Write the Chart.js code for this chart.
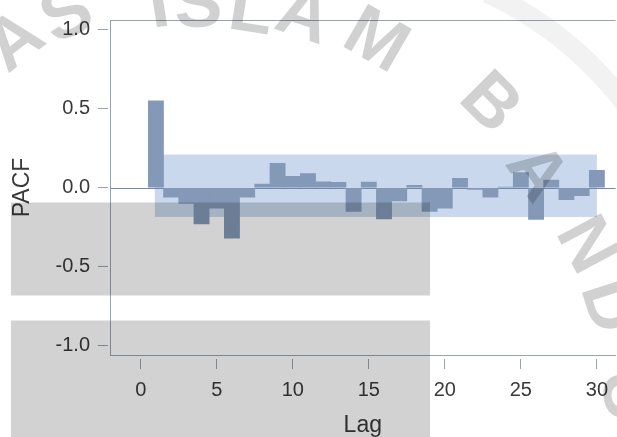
<!DOCTYPE html>
<html>
<head>
<meta charset="utf-8">
<script src="https://cdn.jsdelivr.net/npm/chart.js@4"></script>
<style>
  html, body { margin: 0; padding: 0; background: #fff; overflow: hidden; }
  canvas { display: block; }
</style>
</head>
<body>
<canvas id="pacfChart" width="617" height="437"></canvas>
<script>
// PACF values per lag
const lags = [1, 2, 3, 4, 5, 6, 7, 8, 9, 10, 11, 12, 13, 14, 15,
              16, 17, 18, 19, 20, 21, 22, 23, 24, 25, 26, 27, 28, 29, 30];
const pacfValues = [0.55, -0.06, -0.10, -0.23, -0.13, -0.32, -0.06, 0.023, 0.155, 0.072,
                    0.09, 0.037, 0.035, -0.15, 0.036, -0.197, -0.083, 0.015, -0.15, -0.13,
                    0.059, -0.01, -0.06, 0.004, 0.096, -0.20, 0.048, -0.075, -0.05, 0.11];
// confidence band
const bandLags = [0.93, 30.0];
const bandLimits = [-0.185, 0.21];
// axis ticks
const xTickValues = [0, 5, 10, 15, 20, 25, 30];
const yTickValues = [-1, -0.5, 0, 0.5, 1];

const axisColor = '#98a2ad';
const textColor = '#3a3a3a';

const bandPlugin = {
  id: 'band',
  beforeDatasetsDraw(chart) {
    const { ctx, chartArea, scales: { x, y } } = chart;
    ctx.save();
    const x0 = x.getPixelForValue(bandLags[0]);
    const x1 = x.getPixelForValue(bandLags[1]);
    const yTop = y.getPixelForValue(bandLimits[1]);
    const yBot = y.getPixelForValue(bandLimits[0]);
    ctx.fillStyle = '#c9d8ec';
    ctx.fillRect(x0, yTop, x1 - x0, yBot - yTop);
    // zero reference line
    const y0 = Math.round(y.getPixelForValue(0)) + 0.5;
    ctx.strokeStyle = '#7189ad';
    ctx.lineWidth = 1;
    ctx.beginPath();
    ctx.moveTo(chartArea.left, y0);
    ctx.lineTo(chartArea.right, y0);
    ctx.stroke();
    // top frame line
    const t = Math.round(chartArea.top) + 0.5;
    ctx.strokeStyle = axisColor;
    ctx.beginPath();
    ctx.moveTo(chartArea.left, t);
    ctx.lineTo(chartArea.right, t);
    ctx.stroke();
    ctx.restore();
  }
};

// watermark and grey scan blocks that sit over the picture
const overlayPlugin = {
  id: 'overlay',
  afterDraw(chart) {
    const ctx = chart.ctx;
    ctx.save();
    ctx.strokeStyle = 'rgba(0,0,0,0.05)';
    ctx.lineWidth = 20;
    ctx.beginPath();
    ctx.arc(330, 330, 372, -65 * Math.PI / 180, -15 * Math.PI / 180);
    ctx.stroke();

    const size = 72;
    ctx.font = 'bold ' + size + 'px "Liberation Sans", Arial, sans-serif';
    ctx.textAlign = 'center';
    ctx.textBaseline = 'alphabetic';
    ctx.fillStyle = 'rgba(0,0,0,0.18)';
    const letters = [
      ['A', 12, 38, -38], ['S', 65, 11, -25], ['I', 158, 1, -9], ['S', 198, 1, -2],
      ['L', 252, 6, 9], ['A', 305, 12, 19], ['M', 378, 37, 30],
      ['B', 493, 100, 45], ['A', 540, 170, 55], ['N', 590, 243, 62],
      ['D', 613, 305, 72], ['U', 630, 395, 82]
    ];
    letters.forEach(([ch, lx, ly, rot]) => {
      ctx.save();
      ctx.translate(lx, ly);
      ctx.rotate(rot * Math.PI / 180);
      ctx.fillText(ch, 0, size * 0.358);
      ctx.restore();
    });

    ctx.fillStyle = 'rgba(0,0,0,0.175)';
    ctx.fillRect(11, 202.5, 419, 93);
    ctx.fillRect(11, 320.5, 419, 117);
    ctx.restore();
  }
};

const ctx = document.getElementById('pacfChart').getContext('2d');

const pacfChart = new Chart(ctx, {
  type: 'bar',
  data: {
    datasets: [{
      data: lags.map((lag, i) => ({ x: lag, y: pacfValues[i] })),
      backgroundColor: '#8498b7',
      borderWidth: 0,
      barPercentage: 1,
      categoryPercentage: 1
    }]
  },
  options: {
    responsive: false,
    animation: false,
    layout: { padding: { top: 17, right: 0, bottom: 0, left: 0 } },
    plugins: {
      legend: { display: false },
      tooltip: { enabled: false }
    },
    scales: {
      x: {
        type: 'linear',
        offset: false,
        min: -2.02,
        max: 31.23,
        afterFit: (scale) => { scale.height = 82; },
        afterBuildTicks: (scale) => { scale.ticks = xTickValues.map(v => ({ value: v })); },
        grid: {
          offset: false,
          drawOnChartArea: false,
          drawTicks: true,
          tickLength: 14,
          tickColor: axisColor,
          tickBorderDash: [0, 3, 11, 100]
        },
        border: { display: true, color: axisColor, width: 1 },
        ticks: {
          padding: 9,
          color: textColor,
          font: { family: '"Liberation Sans", Arial, sans-serif', size: 20 },
          maxRotation: 0,
          callback: (v) => String(v)
        },
        title: {
          display: true,
          text: 'Lag',
          color: textColor,
          font: { family: '"Liberation Sans", Arial, sans-serif', size: 23, lineHeight: 1 },
          padding: { top: 0, bottom: 0 }
        }
      },
      y: {
        min: -1.06,
        max: 1.063,
        afterFit: (scale) => { scale.width = 110; },
        afterBuildTicks: (scale) => { scale.ticks = yTickValues.map(v => ({ value: v })); },
        grid: {
          drawOnChartArea: false,
          drawTicks: true,
          tickLength: 12,
          tickColor: axisColor,
          tickBorderDash: [10, 100]
        },
        border: { display: true, color: axisColor, width: 1 },
        ticks: {
          padding: 8,
          color: textColor,
          font: { family: '"Liberation Sans", Arial, sans-serif', size: 20 },
          callback: (v) => Number(v).toFixed(1)
        },
        title: {
          display: true,
          text: 'PACF',
          color: textColor,
          font: { family: '"Liberation Sans", Arial, sans-serif', size: 23, lineHeight: 1 },
          padding: { top: 11, bottom: 0 }
        }
      }
    }
  },
  plugins: [bandPlugin, overlayPlugin]
});
</script>
</body>
</html>
